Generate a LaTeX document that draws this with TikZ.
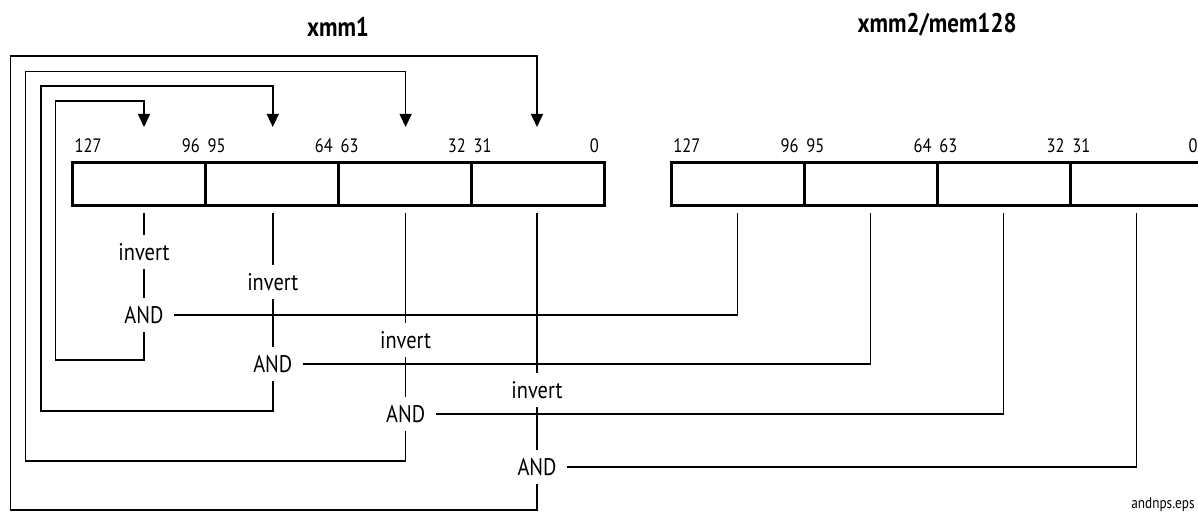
\documentclass[tikz,border=0pt]{standalone}
\usepackage{fontspec}
\setmainfont{PT Sans}[FakeStretch=0.85]
\usetikzlibrary{positioning,arrows.meta}

\tikzset{
  cell/.style={draw, line width=1.5pt, minimum width=66.5pt, minimum height=21.5pt, outer sep=0pt, inner sep=0pt},
  bitnum/.style={font=\fontsize{9.7}{11}\selectfont, inner sep=0pt},
  op/.style={font=\fontsize{12}{14}\selectfont, inner xsep=5pt, inner ysep=0pt, minimum height=17pt},
  regname/.style={font=\bfseries\fontsize{13.5}{15}\selectfont},
  wire/.style={line width=0.75pt},
}

\begin{document}
\begin{tikzpicture}[x=0.5pt, y=-0.5pt, line join=miter, >={Triangle[length=6.5pt,width=6pt]}]
\useasboundingbox (0,0) rectangle (1198,513);
%registers
\node[cell] (a1) at (138.8,184.2) {};
\node[cell, right=0pt of a1] (a2) {};
\node[cell, right=0pt of a2] (a3) {};
\node[cell, right=0pt of a3] (a4) {};
\node[cell] (b1) at (737.5,184.2) {};
\node[cell, right=0pt of b1] (b2) {};
\node[cell, right=0pt of b2] (b3) {};
\node[cell, right=0pt of b3] (b4) {};
\node[regname] (xmm1) at (338,27) {xmm1};
\node[regname] (xmm2) at (937,25) {xmm2/mem128};
%bit numbers
\foreach \r in {a,b}
  \foreach \i/\hi/\lo in {1/127/96,2/95/64,3/63/32,4/31/0}{
    \node[bitnum, anchor=base west] (\r\i-hi) at ([xshift=1pt,yshift=5pt]\r\i.north west) {\hi};
    \node[bitnum, anchor=base east] (\r\i-lo) at ([xshift=-2.5pt,yshift=5pt]\r\i.north east) {\lo};
  }
%invert and AND per dword
\foreach \i/\x/\yi/\ya/\yb/\lx/\yt in {1/144/252/315/360/55.7/101, 2/272.8/282/364/411/41/86,
    3/405.6/340/414/461/25.7/71.7, 4/537/390/467/510/10.7/56}{
  \node[op] (inv\i) at (\x,\yi) {invert};
  \node[op] (and\i) at (\x,\ya) {AND};
  \coordinate (t\i) at (\x,127);
  \draw[wire] (inv\i |- a\i.south) ++(0,7) -- (inv\i);
  \draw[wire] (inv\i) -- (and\i);
  \draw[wire] (and\i) -| ([yshift=-3.5pt]b\i.south);
  \draw[wire,->] (and\i) |- (\lx,\yb) -- (\lx,\yt) -| (t\i);
}
\node[font=\fontsize{7.8}{9}\selectfont, anchor=base east, inner sep=0pt] (fname) at (1195,508) {andnps.eps};
\end{tikzpicture}
\end{document}
